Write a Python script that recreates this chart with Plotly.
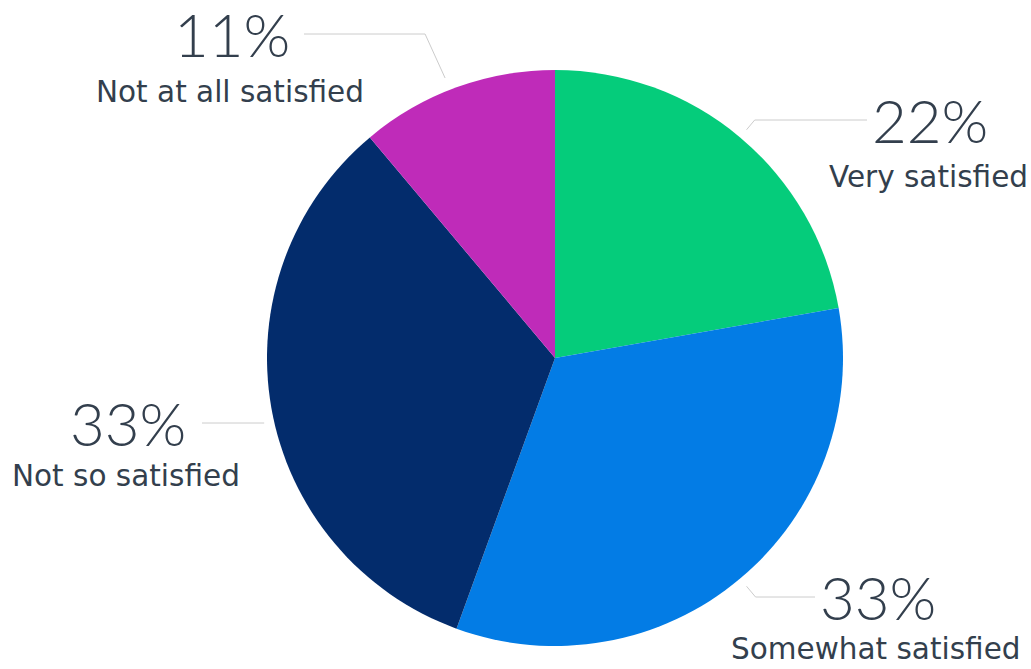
import math
import plotly.graph_objects as go

# Survey responses, in clockwise order from 12 o'clock
categories = ["Very satisfied", "Somewhat satisfied", "Not so satisfied", "Not at all satisfied"]
shares = [22, 33, 33, 11]
colors = ["#05cc7b", "#037ce5", "#032c6c", "#bf2bb9"]

W, H = 1031, 669
CX, CY, R = 555, 358, 288          # pie centre and radius in pixels
TEXT = "#333f4d"
LINE = "#cccccc"

# Label placement: centre x of text block, y of the leader line / percentage
# line, gap down to the category name, connector style, side of the pie.
label_layout = [
    dict(x=930, y=120, sub=57, style="elbow", side="right"),
    dict(x=878, y=597, sub=52, style="elbow", side="right"),
    dict(x=128, y=423, sub=53, style="flat", side="left"),
    dict(x=232, y=34, sub=58, style="elbow", side="left"),
]


def px(x):
    return x / W


def py(y):
    return 1 - y / H


fig = go.Figure()
fig.add_trace(go.Pie(
    labels=categories,
    values=shares,
    sort=False,
    direction="clockwise",
    rotation=0,
    textinfo="none",
    hoverinfo="label+percent",
    marker=dict(colors=colors, line=dict(width=0)),
    domain=dict(x=[px(CX - R), px(CX + R)], y=[py(CY + R), py(CY - R)]),
    showlegend=False,
))

total = sum(shares)
start = 0.0
shapes, annotations = [], []
R0 = R + 10  # connector starts just outside the slice edge
for cat, val, lay in zip(categories, shares, label_layout):
    frac = val / total
    mid = (start + frac / 2) * 2 * math.pi
    start += frac
    s, c = math.sin(mid), -math.cos(mid)   # screen dx, dy per unit radius
    ly = lay["y"]
    pct = round(100 * frac)
    half = 56 if pct < 20 else 58
    left = lay["side"] == "left"
    end_x = lay["x"] + half + 16 if left else lay["x"] - half - 5
    if lay["style"] == "elbow":
        x0, y0 = CX + R0 * s, CY + R0 * c
        x1 = CX + (ly - CY) / c * s
        if left:
            x0 -= 8
            x1 -= 12
        path = f"M {px(x0)} {py(y0)} L {px(x1)} {py(ly)} L {px(end_x)} {py(ly)}"
    else:
        dy = ly - CY
        x1 = CX + math.copysign(math.sqrt(R0 ** 2 - dy ** 2), s)
        path = f"M {px(x1)} {py(ly)} L {px(end_x)} {py(ly)}"
    shapes.append(dict(type="path", path=path, xref="paper", yref="paper",
                       line=dict(color=LINE, width=1)))
    annotations.append(dict(
        x=px(lay["x"]), y=py(ly), xref="paper", yref="paper",
        text=f"{pct}%", showarrow=False, xanchor="center", yanchor="middle",
        height=64, borderpad=0,
        font=dict(family="Lato", size=60, color=TEXT, weight=300),
    ))
    annotations.append(dict(
        x=px(lay["x"] - 2), y=py(ly + lay["sub"]), xref="paper", yref="paper",
        text=cat, showarrow=False, xanchor="center", yanchor="middle",
        font=dict(family="DejaVu Sans", size=29.5, color=TEXT),
    ))

fig.update_layout(
    width=W, height=H,
    margin=dict(l=0, r=0, t=0, b=0),
    paper_bgcolor="white",
    plot_bgcolor="white",
    shapes=shapes,
    annotations=annotations,
)

fig.write_html("out.html")
